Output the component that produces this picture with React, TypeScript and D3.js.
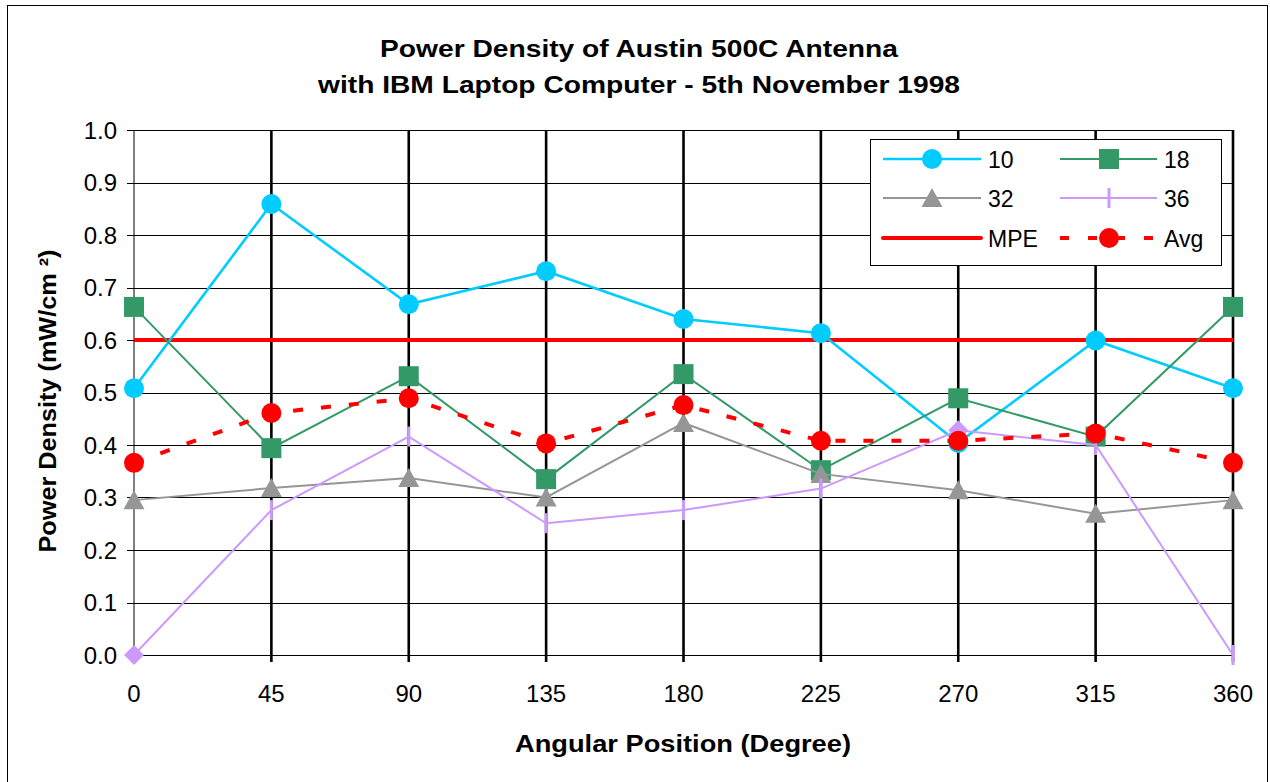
import React from "react";
import * as d3 from "d3";

const angles = [0, 45, 90, 135, 180, 225, 270, 315, 360];
const series10 = [0.508, 0.859, 0.668, 0.731, 0.64, 0.613, 0.404, 0.599, 0.508];
const series18 = [0.663, 0.394, 0.531, 0.335, 0.535, 0.352, 0.489, 0.416, 0.663];
const series32 = [0.295, 0.318, 0.337, 0.3, 0.442, 0.345, 0.314, 0.269, 0.295];
const series36 = [0.0, 0.276, 0.416, 0.251, 0.276, 0.317, 0.428, 0.4, 0.0];
const seriesAvg = [0.366, 0.461, 0.489, 0.403, 0.476, 0.408, 0.408, 0.422, 0.366];
const mpeLimit = 0.6;
const yTickValues = [0, 0.1, 0.2, 0.3, 0.4, 0.5, 0.6, 0.7, 0.8, 0.9, 1.0];

// points of series 36 that Excel shows with a diamond instead of the dash
const diamondAngles36 = [0, 270];

const FONT = "Arial, 'Liberation Sans', sans-serif";
const W = 1270;
const H = 782;
const plot = { left: 134, right: 1233, top: 130, bottom: 655 };

const x = d3.scaleLinear().domain([0, 360]).range([plot.left, plot.right]);
const y = d3.scaleLinear().domain([0, 1]).range([plot.bottom, plot.top]);

const lineGen = d3
  .line<[number, number]>()
  .x((d) => x(d[0]))
  .y((d) => y(d[1]));

const pairs = (vals: number[]) => angles.map((a, i) => [a, vals[i]] as [number, number]);

const Marker = ({ kind, cx, cy, color }: { kind: string; cx: number; cy: number; color: string }) => {
  if (kind === "circle") return <circle cx={cx} cy={cy} r={10} fill={color} />;
  if (kind === "square") return <rect x={cx - 10} y={cy - 10} width={20} height={20} fill={color} />;
  if (kind === "triangle")
    return <path d={`M${cx},${cy - 10}L${cx + 10.5},${cy + 9}L${cx - 10.5},${cy + 9}Z`} fill={color} />;
  if (kind === "diamond")
    return <path d={`M${cx},${cy - 10}L${cx + 10},${cy}L${cx},${cy + 10}L${cx - 10},${cy}Z`} fill={color} />;
  // vertical dash
  return <line x1={cx} x2={cx} y1={cy - 10} y2={cy + 10} stroke={color} strokeWidth={3} />;
};

const seriesList = [
  { name: "10", values: series10, color: "#00CCFF", width: 2.6, marker: "circle" },
  { name: "18", values: series18, color: "#339966", width: 2, marker: "square" },
  { name: "32", values: series32, color: "#969696", width: 2, marker: "triangle" },
  { name: "36", values: series36, color: "#CC99FF", width: 2, marker: "dash" },
];

const Legend = () => {
  const left = 870;
  const top = 139;
  const rows = [159, 198, 238];
  const cols = [
    { x1: 883, x2: 981, mx: 932, tx: 988 },
    { x1: 1060, x2: 1157, mx: 1109, tx: 1164 },
  ];
  const items = [
    ...seriesList.map((s) => ({ ...s, dash: "", lw: s.width })),
    { name: "MPE", color: "#FF0000", marker: "none", dash: "", lw: 4 },
    { name: "Avg", color: "#FF0000", marker: "circle", dash: "9 19", lw: 4 },
  ];
  return (
    <g>
      <rect x={left + 0.5} y={top + 0.5} width={351} height={126} fill="#fff" stroke="#000" strokeWidth={1} />
      {items.map((it, i) => {
        const c = cols[i % 2];
        const ry = rows[Math.floor(i / 2)];
        return (
          <g key={it.name}>
            <line
              x1={c.x1}
              x2={c.x2}
              y1={ry}
              y2={ry}
              stroke={it.color}
              strokeWidth={it.lw}
              strokeDasharray={it.dash || undefined}
              strokeLinecap={it.name === "MPE" ? "round" : "butt"}
            />
            {it.marker !== "none" && <Marker kind={it.marker} cx={c.mx} cy={ry} color={it.color} />}
            <text x={c.tx} y={ry + 8.5} fontSize={23} fontFamily={FONT}>
              {it.name}
            </text>
          </g>
        );
      })}
    </g>
  );
};

export default function App() {
  return (
    <svg width={W} height={H} style={{ position: "absolute", left: 0, top: 0, background: "#fff" }}>
      <rect x={7.5} y={5.5} width={1260} height={800} fill="#fff" stroke="#000" strokeWidth={1} />

      {/* title */}
      <text x={639} y={57} textAnchor="middle" fontSize={24} fontWeight="bold" fontFamily={FONT}
        textLength={518} lengthAdjust="spacingAndGlyphs">
        Power Density of Austin 500C Antenna
      </text>
      <text x={639} y={93} textAnchor="middle" fontSize={24} fontWeight="bold" fontFamily={FONT}
        textLength={642} lengthAdjust="spacingAndGlyphs">
        with IBM Laptop Computer - 5th November 1998
      </text>

      {/* horizontal gridlines + y ticks */}
      {yTickValues.map((v) => (
        <g key={v}>
          <line x1={plot.left - 7} x2={plot.right} y1={Math.round(y(v)) + 0.5} y2={Math.round(y(v)) + 0.5}
            stroke="#000" strokeWidth={1} />
          <text x={117} y={y(v) + 8.5} textAnchor="end" fontSize={24} fontFamily={FONT}>
            {v.toFixed(1)}
          </text>
        </g>
      ))}

      {/* vertical gridlines + x ticks */}
      {angles.map((a) => (
        <g key={a}>
          <line x1={x(a)} x2={x(a)} y1={plot.top} y2={plot.bottom + 7} stroke="#000"
            strokeWidth={a === 0 ? 1 : 2.6} />
          <text x={x(a)} y={702} textAnchor="middle" fontSize={24} fontFamily={FONT}>
            {a}
          </text>
        </g>
      ))}

      {/* MPE limit */}
      <line x1={x(0)} x2={x(360)} y1={y(mpeLimit)} y2={y(mpeLimit)} stroke="#FF0000" strokeWidth={4} />

      {seriesList.map((s) => (
        <g key={s.name}>
          <path d={lineGen(pairs(s.values)) || ""} fill="none" stroke={s.color} strokeWidth={s.width} />
          {angles.map((a, i) => (
            <Marker key={a}
              kind={s.name === "36" && diamondAngles36.includes(a) ? "diamond" : s.marker}
              cx={x(a)} cy={y(s.values[i])} color={s.color} />
          ))}
        </g>
      ))}

      {/* average */}
      <path d={lineGen(pairs(seriesAvg)) || ""} fill="none" stroke="#FF0000" strokeWidth={4}
        strokeDasharray="10 18" />
      {angles.map((a, i) => (
        <Marker key={a} kind="circle" cx={x(a)} cy={y(seriesAvg[i])} color="#FF0000" />
      ))}

      <Legend />

      {/* axis titles */}
      <text x={683} y={752} textAnchor="middle" fontSize={24} fontWeight="bold" fontFamily={FONT}
        textLength={336} lengthAdjust="spacingAndGlyphs">
        Angular Position (Degree)
      </text>
      <text transform="translate(56,401) rotate(-90)" textAnchor="middle" fontSize={24} fontWeight="bold"
        fontFamily={FONT} textLength={303} lengthAdjust="spacingAndGlyphs">
        Power Density (mW/cm  ²)
      </text>
    </svg>
  );
}
